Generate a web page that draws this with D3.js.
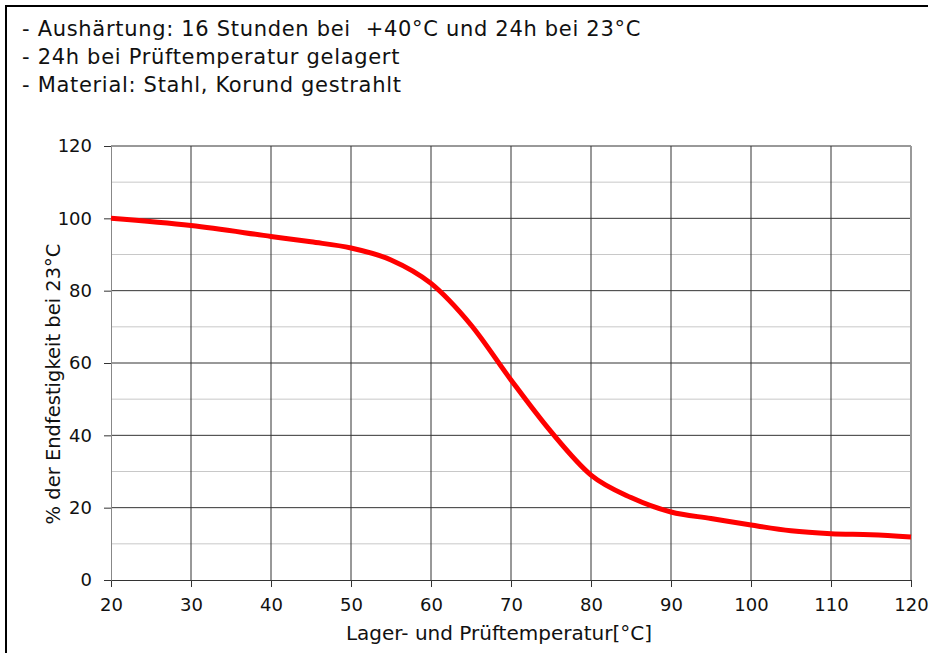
<!DOCTYPE html>
<html><head><meta charset="utf-8">
<script src="https://cdn.jsdelivr.net/npm/d3@7"></script>
<style>body{margin:0;background:#fff}svg{display:block}</style>
</head><body>
<svg id="c" width="928" height="653"></svg>
<script>
const temps = [20,30,40,45,50,55,60,65,70,75,80,85,90,95,100,105,110,115,120];
const strength = [100,98,95,93.5,91.8,88.5,82,70.5,55.3,41,29,22.8,18.8,17,15.2,13.6,12.8,12.5,11.9];
const xTicks = [20,30,40,50,60,70,80,90,100,110,120];
const yTicks = [0,20,40,60,80,100,120];
const yMinor = [10,30,50,70,90,110];
const notes = ["- Aushärtung: 16 Stunden bei  +40°C und 24h bei 23°C","- 24h bei Prüftemperatur gelagert","- Material: Stahl, Korund gestrahlt"];
const xTitle = "Lager- und Prüftemperatur[°C]";
const yTitle = "% der Endfestigkeit bei 23°C";

const font = "'DejaVu Sans', sans-serif";
const svg = d3.select("#c");
svg.append("rect").attr("x",6).attr("y",6).attr("width",940).attr("height",660)
  .attr("fill","none").attr("stroke","#000").attr("stroke-width",2);

const x = d3.scaleLinear().domain([20,120]).range([111,911]);
const y = d3.scaleLinear().domain([0,120]).range([580,146]);

const noteSel = svg.selectAll("text.note").data(notes).enter().append("text")
  .attr("class","note")
  .attr("x",22).attr("y",(d,i)=>36+i*28).attr("font-family",font).attr("font-size",21)
  .attr("fill","#111").text(d=>d).style("white-space","pre");
const w0 = noteSel.node().getComputedTextLength();
const ls = (619 - w0) / notes[0].length;
noteSel.attr("letter-spacing", ls);

const g = svg.append("g");
g.selectAll("line.ymin").data(yMinor).enter().append("line")
  .attr("x1",x(20)).attr("x2",x(120)).attr("y1",d=>y(d)).attr("y2",d=>y(d))
  .attr("stroke","#c8c8c8").attr("stroke-width",1);
g.selectAll("line.ymaj").data(yTicks.filter(v=>v>0)).enter().append("line")
  .attr("x1",x(20)).attr("x2",x(120)).attr("y1",d=>y(d)).attr("y2",d=>y(d))
  .attr("stroke","#333").attr("stroke-width",1);
g.selectAll("line.xg").data(xTicks.filter(v=>v>20)).enter().append("line")
  .attr("x1",d=>x(d)).attr("x2",d=>x(d)).attr("y1",y(0)).attr("y2",y(120))
  .attr("stroke",d=>d===120?"#999":"#333").attr("stroke-width",d=>d===120?2:1);

const xAxis = svg.append("g").attr("transform",`translate(0,${y(0)})`)
  .call(d3.axisBottom(x).tickValues(xTicks).tickSize(7).tickSizeOuter(0).tickPadding(11));
const yAxis = svg.append("g").attr("transform",`translate(${x(20)},0)`)
  .call(d3.axisLeft(y).tickValues(yTicks).tickSize(7).tickSizeOuter(0).tickPadding(12));
[xAxis,yAxis].forEach(a=>{
  a.select(".domain").attr("stroke","#333");
  a.selectAll(".tick line").attr("stroke","#333");
  a.selectAll("text").attr("font-family",font).attr("font-size",18).attr("fill","#111");
});
yAxis.select(".domain").attr("stroke","#888").attr("stroke-width",1);

const line = d3.line().x((d,i)=>x(temps[i])).y(d=>y(d)).curve(d3.curveMonotoneX);
svg.append("path").datum(strength).attr("d",line).attr("fill","none")
  .attr("stroke","#ff0000").attr("stroke-width",5).attr("stroke-linecap","butt");

svg.append("text").attr("x",499).attr("y",640).attr("text-anchor","middle")
  .attr("font-family",font).attr("font-size",20).attr("fill","#111").text(xTitle);
svg.append("text").attr("transform",`translate(60,384) rotate(-90)`).attr("text-anchor","middle")
  .attr("font-family",font).attr("font-size",19.5).attr("fill","#111").text(yTitle);
</script>
</body></html>
